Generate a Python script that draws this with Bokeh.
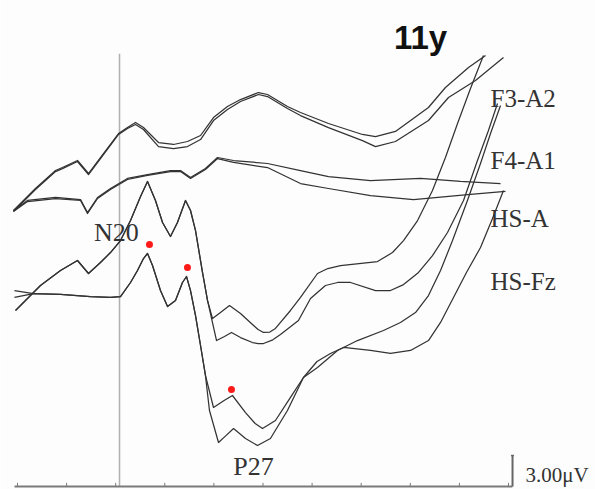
from bokeh.plotting import figure
from bokeh.embed import file_html
from bokeh.resources import INLINE
from bokeh.core.properties import value

# ---------------- data (time in ms, amplitude in µV incl. display offset) -------------
f3a_t = [-10.41, -8.17, -6.13, -5.42, -3.89, -2.77, -1.55, 0.29, 1.20, 2.02, 2.83, 4.36, 5.89, 7.31,
         8.64, 9.96, 11.38, 12.71, 14.54, 15.46, 17.49, 18.82, 21.67, 25.13, 26.46, 28.49, 31.85,
         33.58, 35.93, 37.66]
f3a_v = [26.72, 28.85, 30.59, 30.88, 31.56, 30.30, 31.85, 34.17, 34.75, 35.24, 34.75, 33.30, 33.11, 33.40,
         33.98, 35.72, 36.79, 37.46, 38.14, 37.95, 36.79, 36.21, 35.14, 34.08, 33.88, 34.37, 36.69,
         38.63, 40.56, 41.72]

f3b_t = [-10.41, -8.17, -6.13, -5.42, -3.89, -2.77, -1.55, 0.29, 1.20, 2.02, 2.83, 4.36, 5.89, 7.31,
         8.64, 9.96, 11.38, 12.71, 14.54, 15.46, 17.49, 18.82, 21.67, 25.13, 26.46, 28.49, 31.85,
         33.89, 36.64, 39.49]
f3b_v = [26.62, 28.75, 30.49, 30.78, 31.46, 30.20, 31.75, 34.08, 34.66, 35.05, 34.56, 32.91, 32.72, 32.91,
         33.59, 35.43, 36.50, 37.27, 37.95, 37.75, 36.59, 35.91, 34.75, 33.49, 32.91, 33.40, 35.43,
         37.66, 39.30, 41.53]

f4a_t = [-10.41, -8.98, -6.13, -3.58, -2.87, -1.85, -0.53, 1.20, 3.24, 5.58, 6.60, 7.62, 9.14, 10.37,
         12.00, 15.46, 18.82, 21.67, 25.95, 31.04, 35.11, 39.19]
f4a_v = [26.72, 27.69, 27.98, 27.78, 26.52, 27.98, 28.85, 29.82, 30.20, 30.59, 30.59, 29.91, 30.78, 31.85,
         31.56, 31.27, 30.59, 30.01, 29.62, 29.82, 29.53, 29.33]

f4b_t = [-10.41, -8.98, -6.13, -3.58, -2.87, -1.85, -0.53, 1.20, 3.24, 5.58, 6.60, 7.62, 9.14, 10.37,
         12.00, 15.46, 18.82, 21.67, 25.95, 30.33, 36.13, 39.69]
f4b_v = [26.62, 27.59, 27.88, 27.69, 26.43, 27.88, 28.75, 29.72, 30.11, 30.49, 30.49, 29.82, 30.69, 31.75,
         31.37, 30.88, 29.33, 28.85, 28.17, 27.78, 28.27, 28.56]

hsa_head_t = [-10.20, -8.88, -7.66, -5.62, -3.89, -2.77, -1.55, -0.53, 0.49, 1.51, 2.53, 3.24, 4.05,
              4.77, 5.58, 6.29, 7.11, 7.62, 8.13, 8.84, 9.35]
hsa_head_v = [17.04, 18.30, 19.46, 20.91, 21.88, 20.62, 21.68, 22.65, 23.81, 25.75, 28.07, 29.53, 27.69,
              25.56, 24.20, 25.56, 27.69, 26.72, 24.78, 20.72, 18.01]

hsa1_tail_t = [9.86, 10.67, 11.59, 12.71, 13.93, 14.50, 15.05, 15.70, 16.27, 17.80, 18.82, 20.55, 21.60,
               22.89, 26.66, 28.19, 29.31, 30.74, 32.26, 33.58, 34.81, 36.13, 37.45]
hsa1_tail_v = [16.26, 16.84, 17.52, 16.75, 15.68, 15.20, 14.91, 14.95, 15.30, 17.04, 18.30, 20.62, 21.10,
               21.39, 21.78, 22.65, 23.81, 25.75, 28.65, 31.85, 35.14, 38.53, 41.72]

hsa2_tail_t = [10.27, 11.08, 11.79, 12.71, 13.93, 14.50, 15.05, 16.00, 16.78, 18.61, 19.84, 21.36, 22.60,
               23.91, 26.46, 27.98, 29.31, 30.84, 32.26, 33.79, 35.42, 36.84, 37.96, 38.88]
hsa2_tail_v = [14.13, 14.52, 14.91, 14.42, 13.94, 13.84, 13.84, 14.20, 14.71, 16.07, 18.20, 19.46, 19.75,
               19.75, 18.97, 18.97, 19.55, 20.72, 22.36, 24.59, 27.69, 31.56, 34.46, 37.08]

hsfz_head_t = [-8.37, -5.62, -2.57, -0.53, 0.49, 1.51, 2.22, 2.83, 3.24, 3.75, 4.56, 5.28, 6.09, 6.80,
               7.21, 7.62, 8.13, 8.64, 9.14]
hsfz_head_v = [18.68, 18.59, 18.39, 18.30, 18.39, 19.75, 20.91, 22.07, 22.56, 21.39, 18.97, 17.42, 18.01,
               19.75, 20.33, 18.97, 16.55, 13.65, 10.75]
hsfz1_start_v = 18.97
hsfz2_start_v = 18.30
hsfz_start_t = -10.31

hsfz1_tail_t = [9.96, 11.00, 11.89, 13.22, 14.20, 14.95, 16.27, 17.80, 19.12, 20.55, 22.59, 24.62, 27.27,
                29.00, 30.53, 31.85, 33.08, 34.30, 35.82, 37.15, 38.17, 39.19]
hsfz1_tail_v = [7.65, 8.30, 8.81, 7.16, 6.10, 5.61, 6.39, 8.62, 10.55, 11.52, 13.17, 14.13, 15.10,
                15.88, 16.84, 18.49, 20.91, 23.81, 27.69, 31.27, 34.17, 36.88]

hsfz2_tail_t = [9.55, 10.47, 11.20, 12.00, 13.22, 14.44, 15.76, 17.49, 19.12, 20.50, 21.87, 23.20, 25.95,
                27.98, 30.02, 31.85, 33.08, 34.40, 35.72, 37.15, 38.37, 39.49]
hsfz2_tail_v = [7.36, 4.26, 4.90, 5.61, 4.65, 3.97, 4.65, 7.36, 10.55, 12.10, 12.88, 13.46, 13.17,
                12.88, 13.17, 14.13, 15.88, 18.30, 20.72, 23.14, 25.94, 28.65]

peak_t = [3.44, 7.31, 11.79]
peak_v = [23.43, 21.20, 9.39]

channel_names = ["F3-A2", "F4-A1", "HS-A", "HS-Fz"]
channel_label_v = [37.60, 31.60, 25.90, 19.80]
label_t = 38.17

tick_t = [-10, -5, 0, 5, 10, 15, 20, 25, 30, 35, 40]
axis_start_t = -10.3
axis_end_t = 40.4
stim_t = 0.39
stim_top_v = 41.9
scale_t = 40.41
scale_uv = 3.0

title_text = "11y"
# --------------------------------------------------------------------------------------

TRACE = "#333333"
p = figure(width=595, height=489, x_range=(-11.73, 48.86), y_range=(-0.29, 47.05),
           output_backend="svg", toolbar_location=None, min_border=0,
           x_axis_location=None, y_axis_location=None)
p.grid.visible = False
p.outline_line_color = None
p.background_fill_color = "#fdfdfd"
p.border_fill_color = "#fdfdfd"

# stimulus marker line
p.segment(x0=[stim_t], y0=[0], x1=[stim_t], y1=[stim_top_v], line_color="#b0b0b0", line_width=1.5)

# time axis with inward ticks
p.segment(x0=[axis_start_t], y0=[0], x1=[axis_end_t], y1=[0], line_color="#7a7a7a", line_width=2)
p.segment(x0=tick_t, y0=[0] * len(tick_t), x1=tick_t, y1=[0.35] * len(tick_t),
          line_color="#7a7a7a", line_width=1)

# amplitude scale bar
p.segment(x0=[scale_t], y0=[0], x1=[scale_t], y1=[scale_uv], line_color="#666666", line_width=2)
p.segment(x0=[scale_t - 0.15], y0=[scale_uv], x1=[scale_t + 0.15], y1=[scale_uv],
          line_color="#666666", line_width=1.5)

# traces
kw = dict(line_color=TRACE, line_width=1.25, line_join="round")
p.line(f3a_t, f3a_v, **kw)
p.line(f3b_t, f3b_v, **kw)
p.line(f4a_t, f4a_v, **kw)
p.line(f4b_t, f4b_v, **kw)
p.line(hsa_head_t + hsa1_tail_t, hsa_head_v + hsa1_tail_v, **kw)
p.line(hsa_head_t + hsa2_tail_t, hsa_head_v + hsa2_tail_v, **kw)
p.line([hsfz_start_t] + hsfz_head_t + hsfz1_tail_t, [hsfz1_start_v] + hsfz_head_v + hsfz1_tail_v, **kw)
p.line([hsfz_start_t] + hsfz_head_t + hsfz2_tail_t, [hsfz2_start_v] + hsfz_head_v + hsfz2_tail_v, **kw)

# peak markers
p.scatter(peak_t, peak_v, size=7, color="#ff1a1a", line_color=None)

# labels
SERIF = value("Liberation Serif")
p.text(x=[label_t] * 4, y=channel_label_v, text=channel_names, text_font=SERIF,
       text_font_size="25px", text_color="#333333", text_align="left", text_baseline="middle")
p.text(x=[0.08], y=[24.59], text=["N20"], text_font=SERIF, text_font_size="26px",
       text_color="#333333", text_align="center", text_baseline="middle")
p.text(x=[14.03], y=[1.94], text=["P27"], text_font=SERIF, text_font_size="26px",
       text_color="#333333", text_align="center", text_baseline="middle")
p.text(x=[41.73], y=[1.11], text=["3.00\u03bcV"], text_font=SERIF, text_font_size="21px",
       text_color="#333333", text_align="left", text_baseline="middle")
p.text(x=[31.04], y=[43.47], text=[title_text], text_font=value("Liberation Sans"),
       text_font_size="33px", text_font_style="bold", text_color="#111111",
       text_align="center", text_baseline="alphabetic")

open("out.html", "w").write(file_html(p, INLINE))
